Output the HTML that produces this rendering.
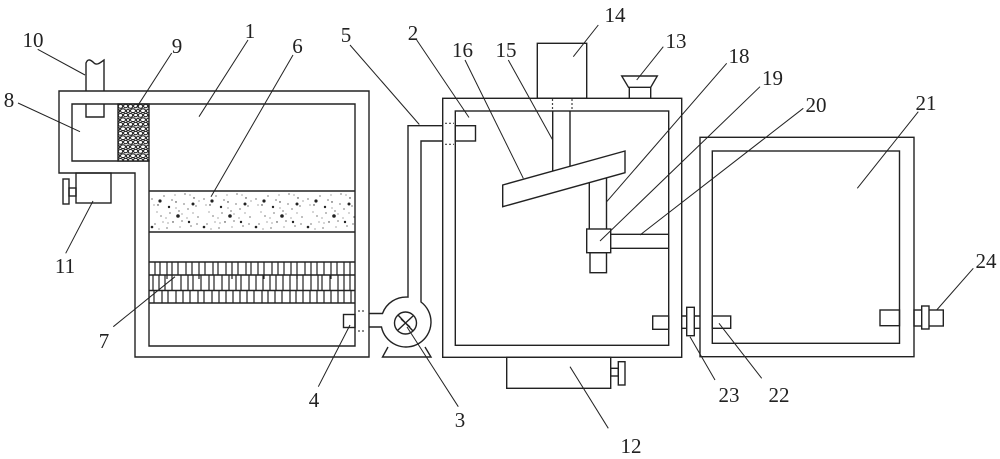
<!DOCTYPE html>
<html>
<head>
<meta charset="utf-8">
<style>
html,body{margin:0;padding:0;background:#fff;}
svg{display:block;}
text{font-family:"Liberation Serif",serif;font-size:21px;fill:#222;text-anchor:middle;}
</style>
</head>
<body>
<svg width="1000" height="459" viewBox="0 0 1000 459" xmlns="http://www.w3.org/2000/svg">
<defs>
<pattern id="dots" x="149" y="191" width="52" height="41" patternUnits="userSpaceOnUse">
<g fill="#222">
<circle cx="3" cy="8" r="0.6"/><circle cx="9" cy="14" r="0.7"/><circle cx="15" cy="5" r="0.6"/>
<circle cx="21" cy="22" r="0.6"/><circle cx="27" cy="11" r="0.7"/><circle cx="33" cy="30" r="0.6"/>
<circle cx="39" cy="18" r="0.6"/><circle cx="45" cy="7" r="0.7"/><circle cx="49" cy="26" r="0.6"/>
<circle cx="6" cy="33" r="0.6"/><circle cx="12" cy="25" r="0.6"/><circle cx="18" cy="37" r="0.6"/>
<circle cx="24" cy="31" r="0.7"/><circle cx="30" cy="20" r="0.6"/><circle cx="36" cy="3" r="0.6"/>
<circle cx="42" cy="35" r="0.6"/><circle cx="47" cy="15" r="0.6"/><circle cx="8" cy="21" r="0.5"/>
<circle cx="26" cy="4" r="0.5"/><circle cx="38" cy="27" r="0.5"/><circle cx="14" cy="31" r="0.5"/>
<circle cx="44" cy="22" r="0.5"/>
<circle cx="5" cy="14" r="0.5"/><circle cx="17" cy="27" r="0.5"/><circle cx="23" cy="9" r="0.6"/>
<circle cx="31" cy="36" r="0.5"/><circle cx="35" cy="13" r="0.6"/><circle cx="41" cy="4" r="0.5"/>
<circle cx="48" cy="33" r="0.6"/><circle cx="10" cy="38" r="0.5"/><circle cx="27" cy="17" r="0.5"/>
<circle cx="33" cy="23" r="0.5"/><circle cx="50" cy="10" r="0.5"/><circle cx="19" cy="32" r="0.5"/>
<circle cx="11" cy="10" r="1.6"/><circle cx="29" cy="25" r="1.8"/><circle cx="44" cy="13" r="1.5"/>
<circle cx="20" cy="16" r="1.2"/><circle cx="3" cy="36" r="1.3"/><circle cx="40" cy="31" r="1.2"/>
</g>
</pattern>
<pattern id="gravel" x="118" y="104" width="10" height="9" patternUnits="userSpaceOnUse">
<rect width="10" height="9" fill="#fff"/>
<g fill="#fff" stroke="#222" stroke-width="1.1">
<ellipse cx="2.5" cy="2.4" rx="2.2" ry="1.9"/>
<ellipse cx="7.6" cy="2" rx="2.1" ry="1.7"/>
<ellipse cx="5" cy="6.7" rx="2.5" ry="1.9"/>
<ellipse cx="0" cy="7" rx="1.5" ry="1.8"/>
<ellipse cx="10" cy="7" rx="1.5" ry="1.8"/>
</g>
</pattern>
</defs>

<g fill="none" stroke="#222" stroke-width="1.4">
<path d="M59,91 H369 V357 H135 V173 H59 Z"/>
<path d="M72,104 H355 V346 H149 V161 H72 Z"/>
<rect x="118" y="104" width="31" height="57" fill="url(#gravel)"/>
<path d="M86,91 V63 C88,58 91,60 94,63 C97,66 101,62 104,60 V91"/>
<path d="M86,104 V117 H104 V104"/>
<rect x="76" y="173" width="35" height="30"/>
<rect x="69" y="188" width="7" height="8"/>
<rect x="63" y="179" width="6" height="25"/>
<rect x="149" y="191" width="206" height="41" fill="url(#dots)" stroke="none"/>
<line x1="149" y1="191" x2="355" y2="191"/>
<line x1="149" y1="232" x2="355" y2="232"/>
<line x1="149" y1="262" x2="355" y2="262"/>
<line x1="149" y1="275" x2="355" y2="275"/>
<line x1="149" y1="290.5" x2="355" y2="290.5"/>
<line x1="149" y1="303" x2="355" y2="303"/>
</g>
<g stroke="#222" stroke-width="1.2">
<path d="M155,262V275M160,262V275M167,262V279M172,262V275M178,262V275M186,262V275M192,262V275M199,262V279M205,262V275M213,262V275M218,262V275M226,262V275M232,262V279M238,262V275M246,262V275M251,262V275M258,262V275M264,262V279M272,262V275M278,262V275M284,262V275M291,262V275M297,262V279M305,262V275M311,262V275M317,262V275M324,262V275M331,262V279M337,262V275M344,262V275M350,262V275"/>
<path d="M153,275V290.5M159,275V290.5M165,275V290.5M172,275V290.5M181,275V290.5M188,275V290.5M193,275V290.5M201,275V290.5M209,275V290.5M214,275V290.5M222,275V290.5M229,275V290.5M236,275V290.5M241,275V290.5M249,275V290.5M256,275V290.5M263,275V290.5M270,275V290.5M276,275V290.5M283,275V290.5M290,275V290.5M297,275V290.5M303,275V290.5M311,275V290.5M318,275V290.5M322,275V290.5M330,275V290.5M338,275V290.5M344,275V290.5M350,275V290.5"/>
<path d="M154,290.5V303M162,290.5V303M168,290.5V303M176,290.5V303M183,290.5V303M190,290.5V303M198,290.5V303M204,290.5V303M212,290.5V303M219,290.5V303M226,290.5V303M233,290.5V303M240,290.5V303M247,290.5V303M254,290.5V303M262,290.5V303M268,290.5V303M275,290.5V303M282,290.5V303M290,290.5V303M296,290.5V303M303,290.5V303M310,290.5V303M317,290.5V303M324,290.5V303M331,290.5V303M338,290.5V303M344,290.5V303M351,290.5V303"/>
</g>

<g fill="none" stroke="#222" stroke-width="1.4">
<rect x="343.5" y="314.5" width="11.5" height="13"/>
<path d="M442.7,125.7 H408 V297.1 A25,25 0 0 0 382.5,313.5 H369"/>
<path d="M369,327 H381.5 A25,25 0 1 0 421,302 V141 H442.7"/>
<path d="M388,347 L382.5,357 H431 L425,347"/>
<circle cx="405.5" cy="323" r="11"/>
<path d="M398,315 L413,331 M398,330 L413,316 M401,319 L410,327"/>
<rect x="442.7" y="98.3" width="239" height="259"/>
<rect x="455.3" y="111" width="213.4" height="234.3"/>
<rect x="455.3" y="125.7" width="20.2" height="15.3"/>
<rect x="537.3" y="43.3" width="49.4" height="55"/>
<path d="M552.7,111 V171 M570,111 V166.3"/>
<polygon points="502.7,185 625,151 625,172.7 502.7,206.7"/>
<path d="M589.3,182.6 V229 M606.5,177.8 V229"/>
<rect x="586.7" y="229" width="24" height="23.7"/>
<rect x="590" y="252.7" width="16.5" height="20"/>
<path d="M610.7,234.3 H668.7 M610.7,248.3 H668.7"/>
<path d="M621.7,76 H657.3 L650.7,87.3 H628.5 Z"/>
<path d="M629.3,87.3 V98.3 M650.7,87.3 V98.3"/>
<rect x="506.7" y="357.3" width="104" height="31"/>
<rect x="610.7" y="368.3" width="7.6" height="7.7"/>
<rect x="618.3" y="361.7" width="6.7" height="23.3"/>
<rect x="652.7" y="316" width="16" height="13.3"/>
<path d="M681.7,316 H700 M681.7,328.3 H700"/>
<rect x="686.7" y="307.3" width="7.6" height="28.4" fill="#fff"/>
<rect x="700" y="137.3" width="214" height="219.4"/>
<rect x="712.3" y="151" width="187.2" height="192.3"/>
<rect x="712.3" y="316" width="18.4" height="12.3"/>
<rect x="880" y="310" width="19.5" height="15.7"/>
<rect x="914" y="310" width="29.3" height="16"/>
<rect x="921.7" y="306" width="7.3" height="23" fill="#fff"/>
</g>

<g stroke="#444" stroke-width="1.2" stroke-dasharray="2,2" fill="none">
<path d="M358,311 H366 M358,331 H366"/>
<path d="M445,123.3 H454 M445,144.3 H454"/>
<path d="M552.5,99 V111 M572,99 V111"/>
</g>

<g stroke="#222" stroke-width="1" fill="none">
<line x1="37.7" y1="49.3" x2="85" y2="75"/>
<line x1="171.7" y1="53" x2="136.7" y2="107.3"/>
<line x1="248" y1="40" x2="199" y2="116.7"/>
<line x1="293" y1="55" x2="211" y2="196.7"/>
<line x1="350" y1="45" x2="419.3" y2="124.5"/>
<line x1="18" y1="103" x2="80" y2="131.7"/>
<line x1="65.7" y1="253.3" x2="93" y2="201"/>
<line x1="113.3" y1="326.7" x2="175" y2="276.7"/>
<line x1="318.3" y1="386.7" x2="350" y2="325"/>
<line x1="458.3" y1="406.7" x2="407" y2="327"/>
<line x1="608.3" y1="428.3" x2="570" y2="366.7"/>
<line x1="598.3" y1="25" x2="573.3" y2="56.7"/>
<line x1="663.3" y1="46.7" x2="636.7" y2="80"/>
<line x1="416.7" y1="40" x2="469" y2="117.5"/>
<line x1="465" y1="60" x2="523.3" y2="178.3"/>
<line x1="508.3" y1="60" x2="552.7" y2="140"/>
<line x1="726.7" y1="63.3" x2="606.7" y2="201.7"/>
<line x1="760" y1="86.7" x2="600" y2="241"/>
<line x1="803.3" y1="108.3" x2="640" y2="235"/>
<line x1="918.3" y1="111.7" x2="857.3" y2="188.3"/>
<line x1="973.3" y1="268.3" x2="936.7" y2="310"/>
<line x1="715" y1="380" x2="690" y2="336.7"/>
<line x1="761.7" y1="378.3" x2="719" y2="323.3"/>
</g>

<text x="33" y="47">10</text>
<text x="177" y="53">9</text>
<text x="250" y="38">1</text>
<text x="297.5" y="53">6</text>
<text x="346" y="42">5</text>
<text x="9" y="107">8</text>
<text x="65" y="273">11</text>
<text x="104" y="348">7</text>
<text x="314" y="407">4</text>
<text x="460" y="427">3</text>
<text x="631" y="453">12</text>
<text x="615" y="22">14</text>
<text x="676" y="48">13</text>
<text x="413" y="40">2</text>
<text x="462.5" y="57">16</text>
<text x="506" y="57">15</text>
<text x="739" y="63">18</text>
<text x="772.5" y="85">19</text>
<text x="816" y="112">20</text>
<text x="926" y="110">21</text>
<text x="986" y="268">24</text>
<text x="729" y="402">23</text>
<text x="779" y="402">22</text>
</svg>
</body>
</html>
